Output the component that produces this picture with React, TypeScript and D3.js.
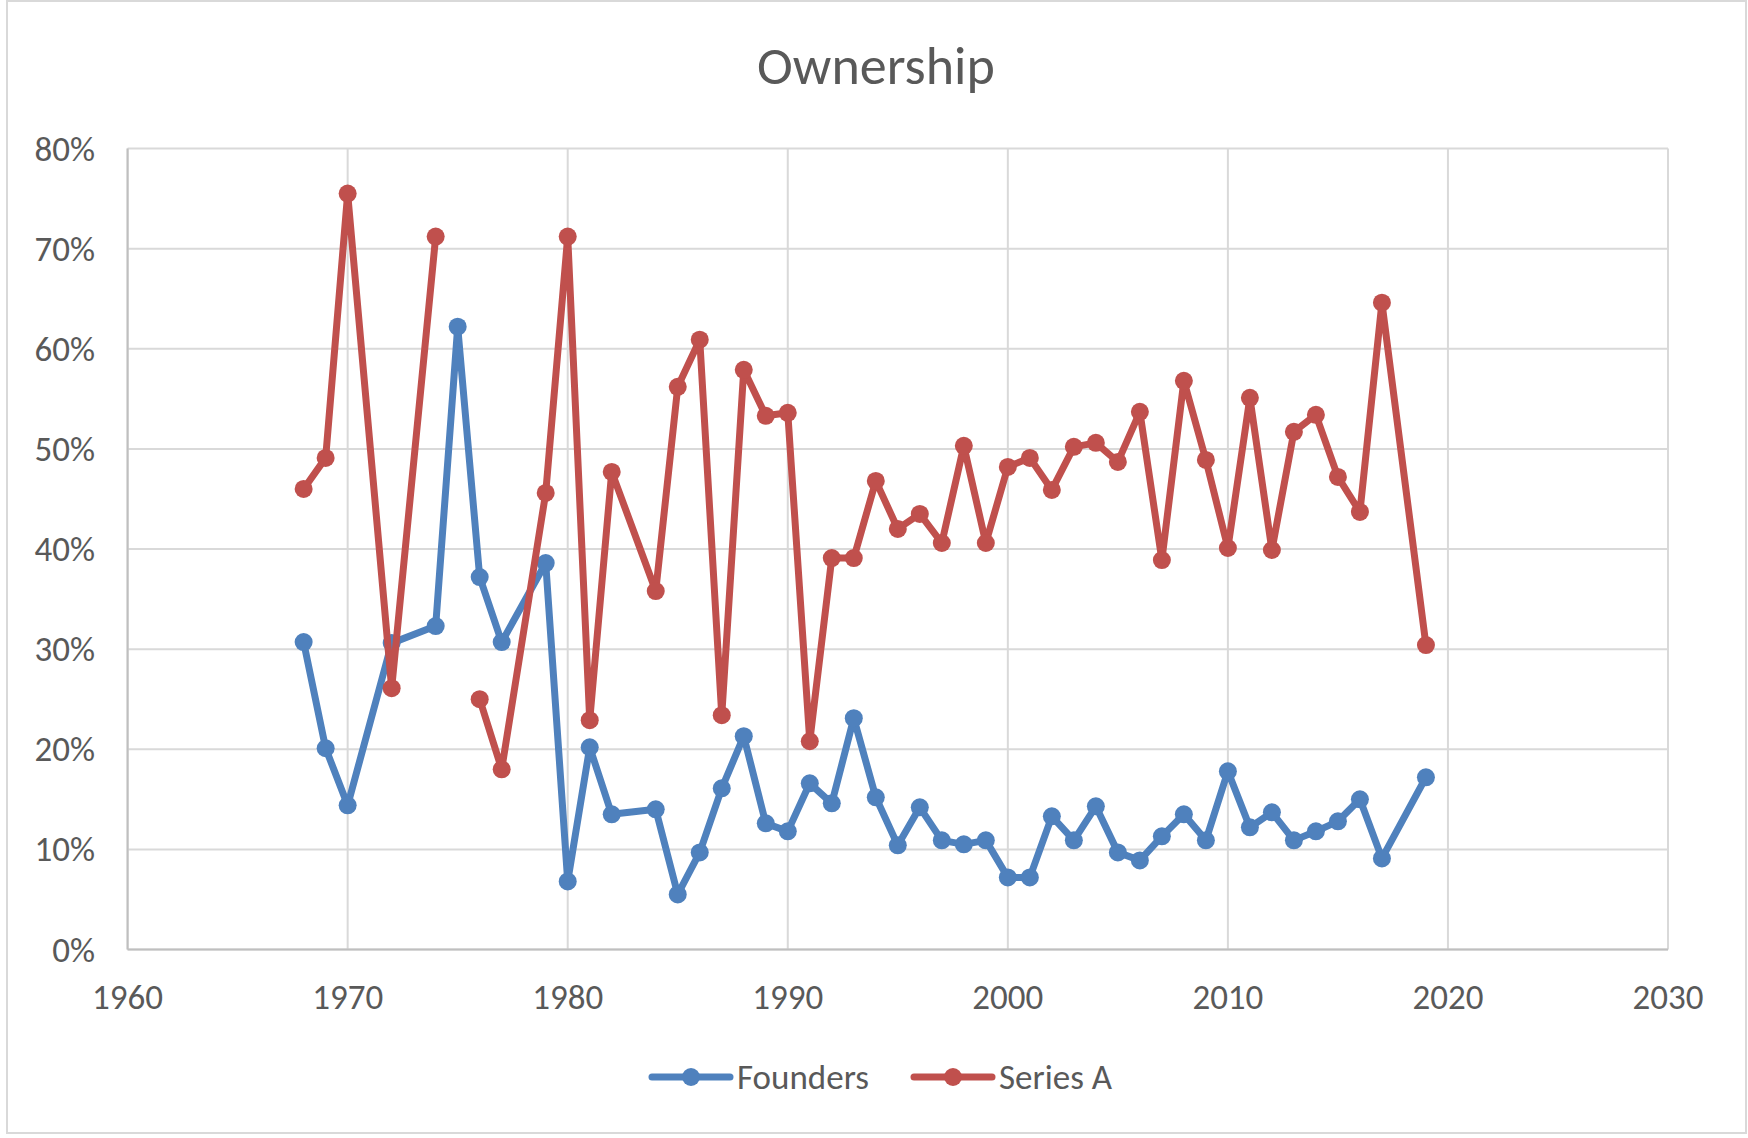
import React from "react";
import * as d3 from "d3";

const years = [1968, 1969, 1970, 1972, 1974, 1975, 1976, 1977, 1979, 1980, 1981, 1982, 1984, 1985, 1986, 1987, 1988, 1989, 1990, 1991, 1992, 1993, 1994, 1995, 1996, 1997, 1998, 1999, 2000, 2001, 2002, 2003, 2004, 2005, 2006, 2007, 2008, 2009, 2010, 2011, 2012, 2013, 2014, 2015, 2016, 2017, 2019];

const founders = [30.7, 20.1, 14.4, 30.6, 32.3, 62.2, 37.2, 30.7, 38.6, 6.8, 20.2, 13.5, 14.0, 5.5, 9.7, 16.1, 21.3, 12.6, 11.8, 16.6, 14.6, 23.1, 15.2, 10.4, 14.2, 10.9, 10.5, 10.9, 7.2, 7.2, 13.3, 10.9, 14.3, 9.7, 8.9, 11.3, 13.5, 10.9, 17.8, 12.2, 13.7, 10.9, 11.8, 12.8, 15.0, 9.1, 17.2];

const seriesA: (number | null)[] = [46.0, 49.1, 75.5, 26.1, 71.2, null, 25.0, 18.0, 45.6, 71.2, 22.9, 47.7, 35.8, 56.2, 60.9, 23.4, 57.9, 53.3, 53.6, 20.8, 39.1, 39.1, 46.8, 42.0, 43.5, 40.6, 50.3, 40.6, 48.2, 49.1, 45.9, 50.2, 50.6, 48.7, 53.7, 38.9, 56.8, 48.9, 40.1, 55.1, 39.9, 51.7, 53.4, 47.2, 43.7, 64.6, 30.4];

const xTicks = [1960, 1970, 1980, 1990, 2000, 2010, 2020, 2030];
const yTicks = [0, 10, 20, 30, 40, 50, 60, 70, 80];

const seriesNames = ["Founders", "Series A"];
const seriesColors = ["#4F81BD", "#C0504D"];

const W = 1748;
const H = 1138;
const FONT = "Carlito, Lato, sans-serif";
const TEXT = "#595959";

export default function App() {
  const x = d3.scaleLinear().domain([1960, 2030]).range([127.6, 1668]);
  const y = d3.scaleLinear().domain([0, 80]).range([949.5, 148.5]);

  const allSeries = [founders, seriesA];
  const line = d3
    .line<[number, number | null]>()
    .defined((d) => d[1] !== null)
    .x((d) => x(d[0]))
    .y((d) => y(d[1] as number));

  const legendItems = [
    { lx0: 652, lx1: 730, tx: 737 },
    { lx0: 914, lx1: 992, tx: 999 },
  ];
  const legendY = 1077;

  return (
    <svg
      width={W}
      height={H}
      style={{ position: "absolute", left: 0, top: 0, background: "#fff" }}
      fontFamily={FONT}
    >
      <rect x={0} y={0} width={W} height={H} fill="#fff" />
      <rect x={7} y={1} width={1739} height={1132} fill="#fff" stroke="#d9d9d9" strokeWidth={2} />

      <text x={876} y={84} textAnchor="middle" fontSize={54} fill={TEXT}>
        Ownership
      </text>

      {yTicks.map((t) => (
        <line key={"gy" + t} x1={x(1960)} x2={x(2030)} y1={y(t)} y2={y(t)} stroke="#d9d9d9" strokeWidth={2} />
      ))}
      {xTicks.map((t) => (
        <line key={"gx" + t} x1={x(t)} x2={x(t)} y1={y(0)} y2={y(80)} stroke="#d9d9d9" strokeWidth={2} />
      ))}
      <line x1={x(1960)} x2={x(2030)} y1={y(0)} y2={y(0)} stroke="#bfbfbf" strokeWidth={2} />
      <line x1={x(1960)} x2={x(1960)} y1={y(0)} y2={y(80)} stroke="#bfbfbf" strokeWidth={2} />

      {yTicks.map((t) => (
        <text key={"ty" + t} x={95} y={y(t)} textAnchor="end" dominantBaseline="central" fontSize={35} fill={TEXT}>
          {t + "%"}
        </text>
      ))}
      {xTicks.map((t) => (
        <text key={"tx" + t} x={x(t)} y={997} textAnchor="middle" dominantBaseline="central" fontSize={35} fill={TEXT}>
          {t}
        </text>
      ))}

      {allSeries.map((vals, si) => {
        const pts: [number, number | null][] = years.map((yr, i) => [yr, vals[i]]);
        return (
          <g key={"s" + si}>
            <path d={line(pts) || ""} fill="none" stroke={seriesColors[si]} strokeWidth={7} strokeLinejoin="round" strokeLinecap="round" />
            {pts
              .filter((p) => p[1] !== null)
              .map((p, i) => (
                <circle key={i} cx={x(p[0])} cy={y(p[1] as number)} r={9} fill={seriesColors[si]} />
              ))}
          </g>
        );
      })}

      {legendItems.map((it, i) => (
        <g key={"lg" + i}>
          <line x1={it.lx0} x2={it.lx1} y1={legendY} y2={legendY} stroke={seriesColors[i]} strokeWidth={7} strokeLinecap="round" />
          <circle cx={(it.lx0 + it.lx1) / 2} cy={legendY} r={9} fill={seriesColors[i]} />
          <text x={it.tx} y={legendY} dominantBaseline="central" fontSize={35} fill={TEXT}>
            {seriesNames[i]}
          </text>
        </g>
      ))}
    </svg>
  );
}
